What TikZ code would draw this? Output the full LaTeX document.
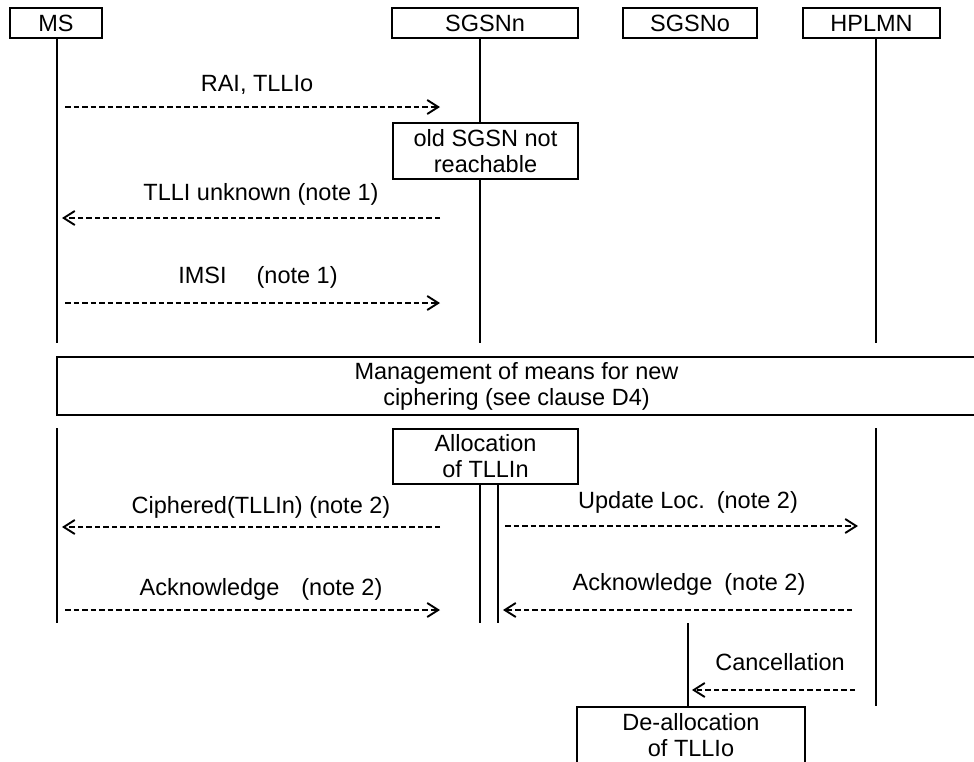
\documentclass[tikz,border=0pt]{standalone}
\usepackage{fontspec}
\setmainfont{Liberation Sans}
\usetikzlibrary{arrows.meta}
\begin{document}
\begin{tikzpicture}[x=1pt,y=-1pt,
  lbl/.style={font=\fontsize{23.5}{27}\selectfont, inner sep=0pt, anchor=base},
  box/.style={draw, line width=1.9pt, fill=white, inner sep=0pt, align=center,
              font=\fontsize{23.5}{26}\selectfont},
  life/.style={line width=1.9pt},
  msg/.style={line width=1.9pt, dash pattern=on 5.5pt off 3pt,
              -{Straight Barb[length=11pt,width=14pt,line width=1.9pt]}}
]
\useasboundingbox (0,0) rectangle (974,761);

% lifeline x positions
\coordinate (msx) at (57,0);
\coordinate (snx) at (480,0);
\coordinate (snx2) at (498,0);
\coordinate (sox) at (688,0);
\coordinate (hpx) at (876,0);

% header boxes
\node[box, minimum width=92, minimum height=30] (ms) at (56,23) {MS};
\node[box, minimum width=186, minimum height=30] (sgsnn) at (485,23) {SGSNn};
\node[box, minimum width=134, minimum height=30] (sgsno) at (690,23) {SGSNo};
\node[box, minimum width=137, minimum height=30] (hplmn) at (871.5,23) {HPLMN};

% boxes on lifelines
\node[box, minimum width=185, minimum height=56] (old) at (485.5,151) {old SGSN not\\reachable};
\node[box, line width=2.3pt, minimum width=919, minimum height=58] (mgmt) at (516.5,386)
  {Management of means for new\\ciphering (see clause D4)};
\node[box, minimum width=185, minimum height=55] (alloc) at (485.5,456.5) {Allocation\\of TLLIn};
\node[box, minimum width=228, minimum height=57] (dealloc) at (691,735.5) {De-allocation\\of TLLIo};

% lifeline ends
\coordinate (msU) at (57,343);
\coordinate (msL) at (57,428);
\coordinate (msE) at (57,623);
\coordinate (snU) at (480,343);
\coordinate (snE) at (480,623);
\coordinate (snE2) at (498,623);
\coordinate (hpU) at (876,343);
\coordinate (hpL) at (876,428);
\coordinate (hpE) at (876,706);
\coordinate (soS) at (688,623);

% lifelines
\draw[life] (ms.south -| msx) -- (msU);
\draw[life] (msL) -- (msE);
\draw[life] (sgsnn.south -| snx) -- (old.north -| snx);
\draw[life] (old.south -| snx) -- (snU);
\draw[life] (alloc.south -| snx) -- (snE);
\draw[life] (alloc.south -| snx2) -- (snE2);
\draw[life] (hplmn.south -| hpx) -- (hpU);
\draw[life] (hpL) -- (hpE);
\draw[life] (soS) -- (dealloc.north -| sox);

% message end points
\coordinate (m1a) at (65,107);  \coordinate (m1b) at (440,107);
\coordinate (m2a) at (440,218); \coordinate (m2b) at (62,218);
\coordinate (m3a) at (65,303);  \coordinate (m3b) at (440,303);
\coordinate (m4a) at (440,527); \coordinate (m4b) at (62,527);
\coordinate (m5a) at (65,610);  \coordinate (m5b) at (440,610);
\coordinate (m6a) at (505,526); \coordinate (m6b) at (858,526);
\coordinate (m7a) at (852,610); \coordinate (m7b) at (503,610);
\coordinate (m8a) at (855,690); \coordinate (m8b) at (692,690);

% messages
\draw[msg] (m1a) -- (m1b);
\draw[msg] (m2a) -- (m2b);
\draw[msg] (m3a) -- (m3b);
\draw[msg] (m4a) -- (m4b);
\draw[msg] (m5a) -- (m5b);
\draw[msg] (m6a) -- (m6b);
\draw[msg] (m7a) -- (m7b);
\draw[msg] (m8a) -- (m8b);

% labels
\node[lbl] (l1) at (257,91) {RAI, TLLIo};
\node[lbl] (l2) at (261,200) {TLLI unknown (note 1)};
\node[lbl] (l3) at (258,283) {IMSI\hspace{30pt}(note 1)};
\node[lbl] (l4) at (261,513) {Ciphered(TLLIn) (note 2)};
\node[lbl] (l5) at (261,595) {Acknowledge\hspace{22pt}(note 2)};
\node[lbl] (l6) at (688,508) {Update Loc.\hspace{12pt}(note 2)};
\node[lbl] (l7) at (689,590) {Acknowledge\hspace{12pt}(note 2)};
\node[lbl] (l8) at (780,670) {Cancellation};
\end{tikzpicture}
\end{document}
